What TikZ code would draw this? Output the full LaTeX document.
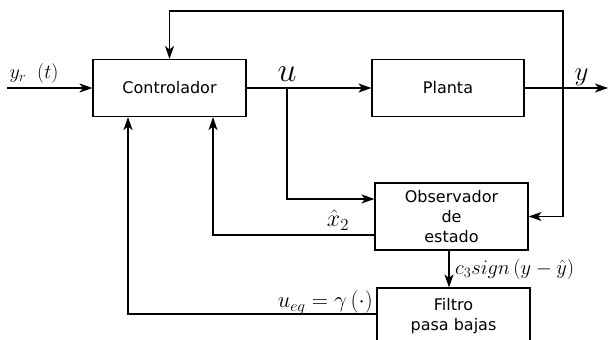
\RequirePackage{fix-cm}
\documentclass[tikz,border=0pt]{standalone}
\usepackage{fontspec}
\newfontfamily\dv{DejaVu Sans}
\usetikzlibrary{arrows.meta,calc}
\begin{document}
\begin{tikzpicture}[x=1pt,y=-1pt,
  blk/.style={draw,line width=1.1pt,minimum width=153pt,minimum height=57pt,
    font=\dv\fontsize{16}{20}\selectfont,align=center,inner sep=0pt},
  wire/.style={line width=1.5pt},
  arr/.style={wire,-{Stealth[length=13pt,width=9pt,inset=3.5pt]}},
  lbl/.style={inner sep=0pt}]
\useasboundingbox (0,0) rectangle (608,340);
\clip (0,0) rectangle (608,340);
\node[blk] (ctrl) at (169.5,88) {Controlador};
\node[blk,minimum width=152pt] (planta) at (448,88) {Planta};
\node[blk,minimum height=67pt] (obs) at (451.5,216.5) {Observador\\de\\estado};
\node[blk] (filt) at (453.5,316.5) {Filtro\\pasa bajas};
\coordinate (yr) at (7,88);
\coordinate (uB) at (287,88);
\coordinate (fb) at (563,88);
\coordinate (yend) at (608,88);
\coordinate (top1) at (563,11);
\coordinate (x2c) at (213,0);
\coordinate (ueqc) at (128,0);
\draw[arr] (yr) -- (ctrl);
\draw[arr] (ctrl) -- (planta);
\draw[arr] (planta) -- (yend);
\draw[arr] (fb) -- (top1) -| (ctrl.north);
\draw[arr] (fb) |- (obs.east);
\draw[arr] (uB) |- ($(obs.west)+(0,-17.5)$);
\draw[arr] ($(obs.west)+(0,18.5)$) -| (x2c |- ctrl.south);
\draw[arr] ($(filt.west)+(0,-2.5)$) -| (ueqc |- ctrl.south);
\draw[arr] ([xshift=-2.5pt]obs.south) -- ([xshift=-2.5pt]obs.south |- filt.north);
\node[lbl,font=\fontsize{34}{40}\selectfont] (ul) at (287,74.5) {$u$};
\node[lbl,font=\fontsize{27}{32}\selectfont] (yl) at (581.5,77.5) {$y$};
\node[lbl,font=\fontsize{20}{24}\selectfont] (yrl) at (34,73.5) {$y_r\hspace{11pt}(t)$};
\node[lbl,font=\fontsize{24}{28}\selectfont] (x2l) at (338,220) {$\hat{x}_2$};
\node[lbl,font=\fontsize{20.5}{24}\selectfont,anchor=west] (cl) at (455,269) {$c_3 sign\left(y-\hat{y}\right)$};
\node[lbl,font=\fontsize{22.5}{27}\selectfont,anchor=east] (ueq) at (373,302.5) {$u_{eq}=\gamma\left(\cdot\right)$};
\end{tikzpicture}
\end{document}
